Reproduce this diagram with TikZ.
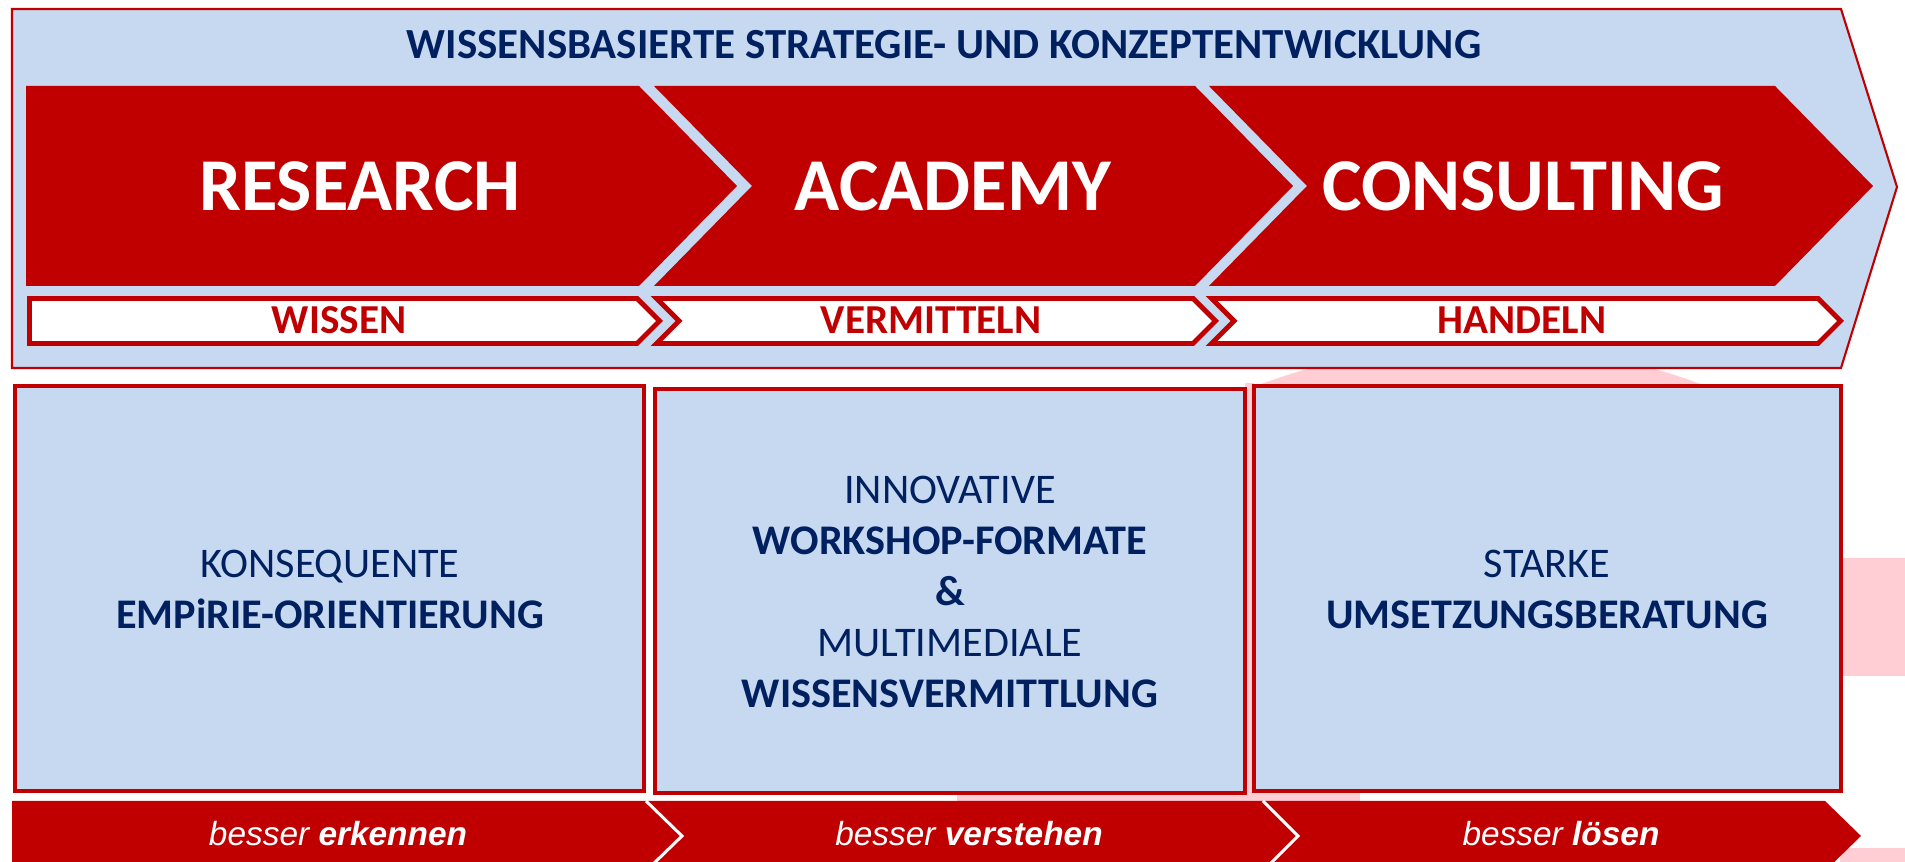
\documentclass[tikz,border=0pt]{standalone}
\usepackage{fontspec}
\setmainfont{Carlito}
\newfontfamily\arialfont{Liberation Sans}
\definecolor{cbred}{RGB}{192,0,0}
\definecolor{cbnavy}{RGB}{0,32,96}
\definecolor{cbblue}{RGB}{198,217,240}
\definecolor{cbpink}{RGB}{255,205,212}

\begin{document}
\begin{tikzpicture}[x=0.01cm,y=-0.01cm,
  redarrow/.style={fill=cbred},
  whitearrow/.style={fill=white,draw=cbred,line width=1.4pt},
  infobox/.style={fill=cbblue,draw=cbred,line width=0.9pt},
  bigtext/.style={anchor=base,text=white,font=\fontsize{21.2}{24}\selectfont\bfseries},
  steptext/.style={anchor=base,text=cbred,font=\fontsize{11.7}{14}\selectfont\bfseries},
  boxtext/.style={text=cbnavy,align=center,font=\fontsize{12}{14.5}\selectfont},
  bessertext/.style={anchor=base,text=white,font=\arialfont\fontsize{9.5}{11}\selectfont\itshape}]
\useasboundingbox (0,0) rectangle (1905,862);
\clip (0,0) rectangle (1905,862);
\begin{scope}
\clip (1254,360) rectangle (1841,386);
\fill[cbpink] (1481,980) circle (635);
\end{scope}
\fill[cbpink] (1245,383) rectangle (1254,801);
\fill[cbpink] (1841,558) rectangle (1905,676);
\fill[cbpink] (957,791) rectangle (1360,801);
\fill[cbpink] (1840,848) rectangle (1905,862);
\draw[cbred,fill=cbblue,line width=0.6pt] (12,9) -- (1841,9) -- (1897,187) -- (1841,368) -- (12,368) -- cycle;
\node[anchor=base,text=cbnavy,font=\fontsize{12.2}{14}\selectfont\bfseries] (title) at (944,59) {WISSENSBASIERTE STRATEGIE- UND KONZEPTENTWICKLUNG};
\fill[redarrow] (26,86) -- (639,86) -- (737,186) -- (639,286) -- (26,286) -- cycle;
\fill[redarrow] (654,86) -- (1195,86) -- (1293,186) -- (1195,286) -- (654,286) -- (752,186) -- cycle;
\fill[redarrow] (1209,86) -- (1775,86) -- (1873,186) -- (1775,286) -- (1209,286) -- (1307,186) -- cycle;
\node[bigtext] (research) at (360,211) {RESEARCH};
\node[bigtext] (academy) at (953,211) {ACADEMY};
\node[bigtext] (consulting) at (1523,211) {CONSULTING};
\draw[whitearrow] (29.5,298.5) -- (637,298.5) -- (659.5,321) -- (637,343.5) -- (29.5,343.5) -- cycle;
\draw[whitearrow] (656.5,298.5) -- (1193,298.5) -- (1215.5,321) -- (1193,343.5) -- (656.5,343.5) -- (679,321) -- cycle;
\draw[whitearrow] (1211.5,298.5) -- (1818,298.5) -- (1840.5,321) -- (1818,343.5) -- (1211.5,343.5) -- (1234,321) -- cycle;
\node[steptext] (wissen) at (339,334) {WISSEN};
\node[steptext] (vermitteln) at (931,334) {VERMITTELN};
\node[steptext] (handeln) at (1522,334) {HANDELN};
\draw[infobox] (15,386) rectangle (644,791);
\draw[infobox] (655,389) rectangle (1245,793);
\draw[infobox] (1254,386) rectangle (1841,791);
\node[boxtext] (empirie) at (330,589) {KONSEQUENTE\\\textbf{EMPiRIE-ORIENTIERUNG}};
\node[boxtext] (workshop) at (950,592) {INNOVATIVE\\\textbf{WORKSHOP-FORMATE}\\\textbf{\&}\\MULTIMEDIALE\\\textbf{WISSENSVERMITTLUNG}};
\node[boxtext] (umsetzung) at (1547,589) {STARKE\\\textbf{UMSETZUNGSBERATUNG}};
\fill[redarrow] (12,801) -- (1825,801) -- (1861,836) -- (1825,871) -- (12,871) -- cycle;
\draw[white,line width=0.85pt] (646,801) -- (682,836) -- (646,871);
\draw[white,line width=0.85pt] (1263,801) -- (1298,836) -- (1263,871);
\node[bessertext] (erkennen) at (338,846) {besser \textbf{erkennen}};
\node[bessertext] (verstehen) at (969,846) {besser \textbf{verstehen}};
\node[bessertext] (loesen) at (1561,846) {besser \textbf{lösen}};
\end{tikzpicture}
\end{document}
